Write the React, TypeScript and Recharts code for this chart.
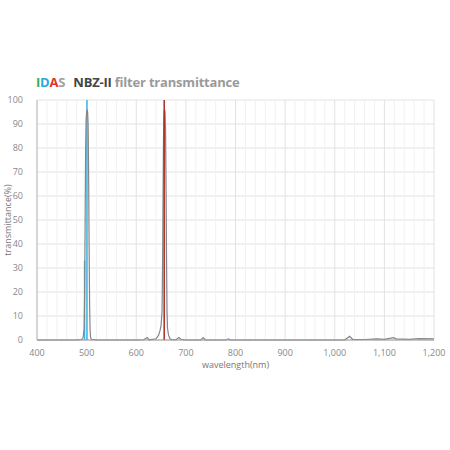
import React from "react";
import {
  CartesianGrid,
  Line,
  LineChart,
  ReferenceLine,
  XAxis,
  YAxis,
} from "recharts";

// filter curve (nm, %)
const WAVELENGTHS = [
  400, 480, 490, 493, 495, 496, 497, 498, 499, 500, 501, 502, 503, 504, 505, 506, 507, 508, 510, 520,
  600, 615, 622, 626, 640, 645, 648, 650, 652, 653, 654, 655, 656, 657, 658, 659, 660, 661, 662, 663,
  665, 668, 672, 680, 686, 690, 700, 730, 735, 739, 780, 786, 790, 1020, 1030, 1036, 1060, 1085, 1100,
  1118, 1124, 1150, 1170, 1200,
];
const TRANSMITTANCE = [
  0, 0, 0.2, 1, 5, 20, 50, 80, 92, 95, 96, 95, 90, 70, 40, 15, 4, 1, 0.3, 0,
  0, 0.1, 1, 0.1, 0.5, 2, 4, 6, 12, 30, 60, 85, 94, 96, 95, 88, 65, 35, 12, 5,
  2, 0.5, 0.1, 0.1, 1, 0.3, 0, 0, 1, 0, 0, 0.5, 0, 0, 1.5, 0.3, 0.2, 0.5, 0.3,
  1, 0.5, 0.3, 0.6, 0.5,
];

// emission lines
const OIII_STRONG = [500.7, 100];
const OIII_WEAK = [495.9, 33];
const HALPHA = [656.3, 100];

const X_TICKS = [400, 500, 600, 700, 800, 900, 1000, 1100, 1200];
const Y_TICKS = [0, 10, 20, 30, 40, 50, 60, 70, 80, 90, 100];
const MINOR_X = [
  420, 440, 460, 480, 520, 540, 560, 580, 620, 640, 660, 680, 720, 740, 760, 780,
  820, 840, 860, 880, 920, 940, 960, 980, 1020, 1040, 1060, 1080, 1120, 1140, 1160, 1180,
];

const curve = WAVELENGTHS.map((w, i) => ({ x: w, y: TRANSMITTANCE[i] }));
const lineData = (l: number[]) => [
  { x: l[0], y: 0 },
  { x: l[0], y: l[1] },
];

const tickStyle = { fill: "#888", fontSize: 9, fontFamily: "Open Sans" };

export default function App() {
  return (
    <div
      style={{
        position: "absolute",
        left: 0,
        top: 0,
        width: 450,
        height: 450,
        background: "#fff",
        fontFamily: "Open Sans",
      }}
    >
      <div
        style={{
          position: "absolute",
          left: 36,
          top: 73,
          fontSize: 13,
          fontWeight: 700,
          letterSpacing: -0.2,
          whiteSpace: "nowrap",
        }}
      >
        <span style={{ color: "#2fb24c" }}>I</span>
        <span style={{ color: "#2aa7df" }}>D</span>
        <span style={{ color: "#e2332d" }}>A</span>
        <span style={{ color: "#a0a0a0" }}>S</span>
        <span style={{ color: "#444", marginLeft: 8 }}>NBZ-II</span>
        <span style={{ color: "#9a9a9a", marginLeft: 3 }}>filter transmittance</span>
      </div>
      <LineChart
        width={450}
        height={450}
        data={curve}
        margin={{ top: 100, right: 16, bottom: 78, left: 0 }}
      >
        <CartesianGrid stroke="#e2e2e2" strokeWidth={1} />
        {MINOR_X.map((v) => (
          <ReferenceLine key={v} x={v} stroke="#f1f1f1" strokeWidth={1} />
        ))}
        <XAxis
          type="number"
          dataKey="x"
          domain={[400, 1200]}
          ticks={X_TICKS}
          tickFormatter={(v: number) => v.toLocaleString("en-US")}
          tick={tickStyle}
          tickLine={false}
          axisLine={{ stroke: "#999" }}
          height={32}
          tickMargin={4}
          label={{
            value: "wavelength(nm)",
            position: "insideBottom",
            offset: 4,
            style: { fill: "#777", fontSize: 9, fontFamily: "Open Sans" },
          }}
        />
        <YAxis
          type="number"
          domain={[0, 100]}
          ticks={Y_TICKS}
          tick={tickStyle}
          tickLine={false}
          axisLine={{ stroke: "#bbb" }}
          width={37}
          tickMargin={8}
          label={{
            value: "transmittance(%)",
            angle: -90,
            position: "insideLeft",
            offset: 8,
            style: { fill: "#777", fontSize: 9, fontFamily: "Open Sans", textAnchor: "middle" },
          }}
        />
        <Line
          data={lineData(OIII_STRONG)}
          dataKey="y"
          stroke="#3db6e8"
          strokeWidth={1.5}
          dot={false}
          isAnimationActive={false}
        />
        <Line
          data={lineData(OIII_WEAK)}
          dataKey="y"
          stroke="#3db6e8"
          strokeWidth={1.5}
          dot={false}
          isAnimationActive={false}
        />
        <Line
          type="linear"
          dataKey="y"
          stroke="#858585"
          strokeWidth={1.2}
          dot={false}
          isAnimationActive={false}
        />
        <Line
          data={lineData(HALPHA)}
          dataKey="y"
          stroke="#a82a24"
          strokeWidth={1.5}
          dot={false}
          isAnimationActive={false}
        />
      </LineChart>
    </div>
  );
}
